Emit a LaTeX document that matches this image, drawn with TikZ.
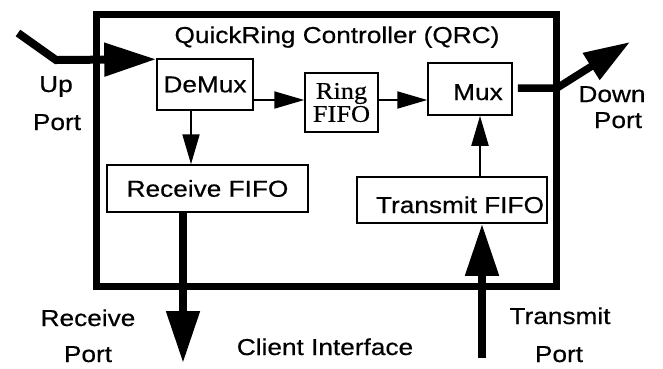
\documentclass[tikz,border=0pt]{standalone}
\usepackage{fontspec}
\setmainfont[FakeStretch=1.14,FakeBold=0.5]{Liberation Sans}
\newfontfamily\ringfont[FakeStretch=1.1,FakeBold=0.4]{Liberation Serif}
\usetikzlibrary{arrows.meta}
\begin{document}
\begin{tikzpicture}[x=1pt,y=-1pt,
  blk/.style={draw, line width=1.5pt, rectangle, inner sep=0pt, font=\fontsize{23}{24}\selectfont},
  lbl/.style={anchor=base, inner sep=0pt, font=\fontsize{23}{24}\selectfont},
  thinarrow/.style={line width=2pt, -{Triangle[length=30pt,width=17pt]}},
  fatarrow/.style={line width=8pt, line join=miter, -{Triangle[length=52pt,width=32pt]}},
  downarrow/.style={line width=7.5pt, line join=miter, -{Triangle[length=46pt,width=30pt]}}]
\useasboundingbox[fill=white] (0,0) rectangle (663,368);
% outer controller box
\node[draw, line width=7pt, minimum width=460pt, minimum height=272pt, inner sep=0pt] (qrc) at (326.5,150) {};
\node[lbl] (title) at (337,43) {QuickRing Controller (QRC)};
% inner blocks
\node[blk, minimum width=96pt, minimum height=51pt] (demux) at (205,84.5) {DeMux};
\node[blk, minimum width=73pt, minimum height=59pt, align=center, font=\ringfont\fontsize{24}{23}\selectfont] (ring) at (341.5,102.5) {Ring\\FIFO};
\node[blk, minimum width=84pt, minimum height=52pt] (mux) at (470,89) {};
\node[lbl] (muxtext) at (478,100) {Mux};
\node[blk, minimum width=201pt, minimum height=47pt] (rxfifo) at (207.5,188.5) {Receive FIFO};
\node[blk, minimum width=190pt, minimum height=46pt] (txfifo) at (452,200) {};
\node[lbl] (txtext) at (460,213) {Transmit FIFO};
% external labels
\node[lbl] (up1) at (56,92) {Up};
\node[lbl] (up2) at (57,130) {Port};
\node[lbl] (dn1) at (612,102) {Down};
\node[lbl] (dn2) at (618,128) {Port};
\node[lbl] (rx1) at (88,326) {Receive};
\node[lbl] (rx2) at (88,362) {Port};
\node[lbl] (client) at (325,355) {Client Interface};
\node[lbl] (tx1) at (560,324) {Transmit};
\node[lbl] (tx2) at (559,362) {Port};
% coordinates of free ends and bends
\coordinate (upA) at (18,33);
\coordinate (upB) at (56,60);
\coordinate (rxport) at (183,363);
\coordinate (txport) at (482,358);
\coordinate (dnbend) at (557,88);
\coordinate (dntip) at (630,42);
% connectors
\draw[fatarrow] (upA) -- (upB) -- ([yshift=-1pt]demux.north west);
\draw[thinarrow] ([yshift=2.5pt]demux.east |- ring.west) -- ([yshift=2.5pt]ring.west);
\draw[thinarrow] ([yshift=2.5pt]ring.east) -- ([yshift=2.5pt]mux.west |- ring.east);
\draw[thinarrow] ([xshift=-14pt]demux.south) -- ([xshift=-14pt]demux.south |- rxfifo.north);
\draw[fatarrow] (rxfifo.south -| rxport) -- (rxport);
\draw[fatarrow] (txport) -- (txport |- txfifo.south);
\draw[thinarrow] ([xshift=28pt]txfifo.north) -- ([xshift=28pt]txfifo.north |- mux.south);
\draw[downarrow] ([xshift=5pt]mux.east |- dnbend) -- (dnbend) -- (dntip);
\end{tikzpicture}
\end{document}
